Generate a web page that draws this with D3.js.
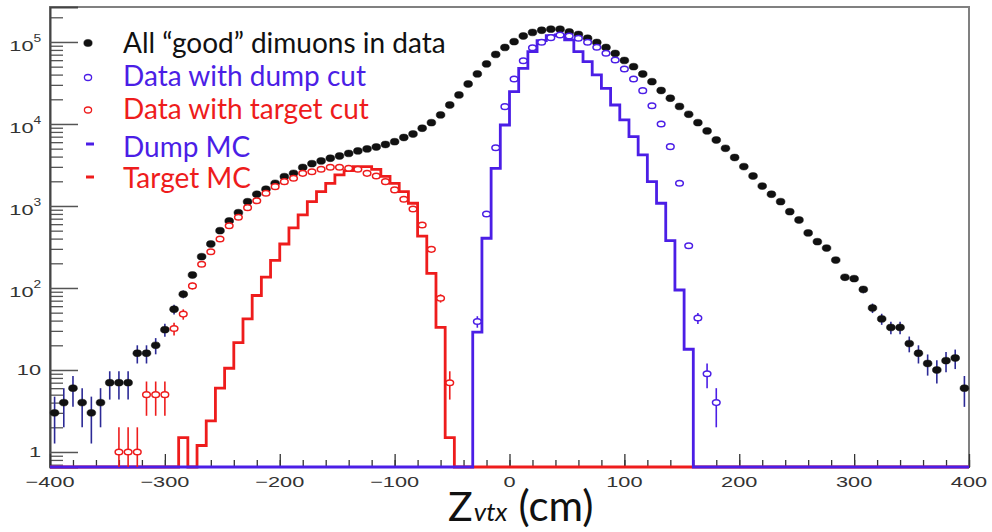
<!DOCTYPE html>
<html>
<head>
<meta charset="utf-8">
<script src="https://cdn.jsdelivr.net/npm/d3@7"></script>
<style>
  body { margin: 0; background: #fff; }
  svg { display: block; }
  .tick-label { font-family: "Liberation Sans", Arial, sans-serif; fill: #333; }
  .legend-label { font-family: Lato, "Open Sans", sans-serif; }
</style>
</head>
<body>
<svg id="chart" width="992" height="532"></svg>
<script>

/*** DATA ***/

// histogram binning along Z_vtx (cm): 100 bins of 8 cm from -400 to 400
const zMin = -400, zMax = 400, binWidth = 8;
const binEdges = d3.range(zMin, zMax, binWidth);          // low edge of each bin
const binCenters = binEdges.map((e) => e + binWidth / 2);

// All "good" dimuons in data
const allGood = [
  3, 4, 6, 4, 3, 4, 7, 7, 7, 16,
  16, 20, 31, 55, 84, 144, 241, 344, 500, 656,
  829, 1128, 1390, 1600, 1890, 2280, 2500, 2950, 3280, 3540,
  3820, 4070, 4370, 4690, 4960, 5240, 5620, 6080, 6840, 7550,
  8870, 10380, 12880, 17050, 22580, 30740, 40740, 53950, 70440, 85700,
  100900, 118300, 130600, 138900, 143300, 143000, 132500, 123400, 111000, 98600,
  85700, 72400, 59500, 50000, 40700, 32800, 25600, 20600, 16350, 13130,
  10380, 8220, 6380, 5050, 3900, 3020, 2320, 1750, 1390, 1130,
  852, 675, 469, 367, 307, 219, 135, 130, 96, 57,
  42, 33, 33, 21, 16, 12, 10, 13, 14, 6
];

// Data with dump cut
const dumpCut = [
  0, 0, 0, 0, 0, 0, 0, 0, 0, 0,
  0, 0, 0, 0, 0, 0, 0, 0, 0, 0,
  0, 0, 0, 0, 0, 0, 0, 0, 0, 0,
  0, 0, 0, 0, 0, 0, 0, 0, 0, 0,
  0, 0, 0, 0, 0, 0, 39, 799, 5140, 16260,
  35380, 59150, 85200, 99100, 112900, 121700, 118300, 111000, 99100, 86100,
  72800, 60300, 46900, 35400, 25500, 16700, 10000, 5290, 1890, 328,
  43, 9, 4, 0, 0, 0, 0, 0, 0, 0,
  0, 0, 0, 0, 0, 0, 0, 0, 0, 0,
  0, 0, 0, 0, 0, 0, 0, 0, 0, 0
];

// Data with target cut
const targetCut = [
  0, 0, 0, 0, 0, 0, 0, 1, 1, 1,
  5, 5, 5, 32, 48, 106, 195, 277, 396, 575,
  728, 954, 1160, 1430, 1720, 1980, 2180, 2500, 2620, 2800,
  2970, 2970, 2880, 2800, 2500, 2320, 1980, 1570, 1210, 920,
  587, 296, 75, 7, 0, 0, 0, 0, 0, 0,
  0, 0, 0, 0, 0, 0, 0, 0, 0, 0,
  0, 0, 0, 0, 0, 0, 0, 0, 0, 0,
  0, 0, 0, 0, 0, 0, 0, 0, 0, 0,
  0, 0, 0, 0, 0, 0, 0, 0, 0, 0,
  0, 0, 0, 0, 0, 0, 0, 0, 0, 0
];

// Dump MC
const dumpMC = [
  0, 0, 0, 0, 0, 0, 0, 0, 0, 0,
  0, 0, 0, 0, 0, 0, 0, 0, 0, 0,
  0, 0, 0, 0, 0, 0, 0, 0, 0, 0,
  0, 0, 0, 0, 0, 0, 0, 0, 0, 0,
  0, 0, 0, 0, 0, 0, 29, 404, 2880, 9720,
  24760, 47780, 76200, 103700, 119400, 121700, 105800, 76200, 57500, 39600,
  27200, 17050, 11190, 7000, 4190, 1980, 1080, 378, 94.5, 17.9,
  0, 0, 0, 0, 0, 0, 0, 0, 0, 0,
  0, 0, 0, 0, 0, 0, 0, 0, 0, 0,
  0, 0, 0, 0, 0, 0, 0, 0, 0, 0
];

// Target MC
const targetMC = [
  0, 0, 0, 0, 0, 0, 0, 0, 0, 0,
  0, 0, 0, 0, 1.5, 0, 1.2, 2.4, 6, 10.5,
  21.5, 42, 81, 136, 217, 344, 540, 777, 1128, 1494,
  1890, 2390, 2700, 3020, 3020, 2800, 2300, 1890, 1494, 1080,
  430, 151, 33, 1.5, 0, 0, 0, 0, 0, 0,
  0, 0, 0, 0, 0, 0, 0, 0, 0, 0,
  0, 0, 0, 0, 0, 0, 0, 0, 0, 0,
  0, 0, 0, 0, 0, 0, 0, 0, 0, 0,
  0, 0, 0, 0, 0, 0, 0, 0, 0, 0,
  0, 0, 0, 0, 0, 0, 0, 0, 0, 0
];

const xTicksMajor = d3.range(-400, 401, 100);
const xTicksMinor = d3.range(-400, 401, 20);
const yTicksMajor = [1, 10, 100, 1e3, 1e4, 1e5];
const yTickLabels = [["1", ""], ["10", ""], ["10", "2"], ["10", "3"], ["10", "4"], ["10", "5"]];

const legendLabels = ["All \u201Cgood\u201D dimuons in data", "Data with dump cut", "Data with target cut", "Dump MC", "Target MC"];

/*** LAYOUT ***/

const blue = "#4b1ee6", red = "#ee1c1c", black = "#111", errNavy = "#2c2a96";

let svg = d3.select('#chart');

let margin = {top: 7, right: 23, bottom: 65, left: 50},
    width  = 992 - margin.left - margin.right,
    height = 532 - margin.top - margin.bottom,
    bottom = margin.top + height;

let x = d3.scaleLinear().domain([zMin, zMax]).range([margin.left, margin.left + width]),
    y = d3.scaleLog().domain([0.656, 2.67e5]).range([bottom, margin.top]);

// empty or below-range bins sit on the axis line
function yc(v) {
    return v > 0 ? Math.min(y(v), bottom) : bottom;
}

function stretched_text(parent, px, py, str, anchor, size, sx) {
    return parent.append("text")
        .classed("tick-label", true)
        .attr("transform", "translate(" + px + "," + py + ") scale(" + sx + ",1)")
        .attr("text-anchor", anchor)
        .style("font-size", size + "px")
        .text(str);
}

/*** FRAME AND AXES ***/

svg.append("rect")
    .attr("x", margin.left).attr("y", margin.top)
    .attr("width", width).attr("height", height)
    .attr("fill", "none").attr("stroke", "#808080").attr("stroke-width", 2);

// y axis, ticks pointing into the plot
let minorY = [];
[0.1, 1, 10, 100, 1e3, 1e4, 1e5].forEach((dec) => {
    for (let m = 2; m <= 9; m++) {
        let v = dec * m;
        if (v >= y.domain()[0] && v <= y.domain()[1]) minorY.push(v);
    }
});

svg.append("g")
    .attr("transform", "translate(" + margin.left + ",0)")
    .call(d3.axisLeft(y).tickValues(minorY).tickSize(-13).tickFormat(""))
    .call((g) => g.select(".domain").remove())
    .selectAll("line").attr("stroke", "#555").attr("stroke-width", 1.3);

svg.append("g")
    .attr("transform", "translate(" + margin.left + ",0)")
    .call(d3.axisLeft(y).tickValues(yTicksMajor).tickSize(-28).tickFormat(""))
    .call((g) => g.select(".domain").attr("stroke", "#444").attr("stroke-width", 2))
    .selectAll("line").attr("stroke", "#555").attr("stroke-width", 1.5);

yTicksMajor.forEach((v, i) => {
    let lab = yTickLabels[i];
    if (lab[1] === "") {
        stretched_text(svg, 41, y(v) + 5.5, lab[0], "end", 15, 1.45);
    } else {
        stretched_text(svg, 33.5, y(v) + 9, lab[0], "end", 15, 1.45);
        stretched_text(svg, 33.5, y(v) + 0.5, lab[1], "start", 11, 1.25);
    }
});

// x axis, ticks pointing up into the plot
svg.append("g")
    .attr("transform", "translate(0," + bottom + ")")
    .call(d3.axisBottom(x).tickValues(xTicksMinor).tickSize(-7).tickFormat(""))
    .call((g) => g.select(".domain").remove())
    .selectAll("line").attr("stroke", "#333").attr("stroke-width", 1.3);

svg.append("g")
    .attr("transform", "translate(0," + bottom + ")")
    .call(d3.axisBottom(x).tickValues(xTicksMajor).tickSize(-13).tickFormat(""))
    .call((g) => g.select(".domain").attr("stroke", "#333"))
    .selectAll("line").attr("stroke", "#333").attr("stroke-width", 1.3);

xTicksMajor.forEach((v) => {
    stretched_text(svg, x(v), 487, d3.format("d")(v), "middle", 15, 1.45);
});

// axis title
let title = svg.append("text")
    .attr("x", 448).attr("y", 521)
    .style("font-family", "Lato, 'Open Sans', sans-serif")
    .attr("fill", "#111");
title.append("tspan").style("font-size", "41px").text("Z");
title.append("tspan").style("font-size", "26px").style("font-style", "italic").attr("dx", 1).text("vtx");
title.append("tspan").style("font-size", "42px").attr("dx", 11).text("(cm)");

/*** HISTOGRAMS ***/

let histLine = d3.line()
    .x((d) => x(d[0]))
    .y((d) => yc(d[1]))
    .curve(d3.curveStepAfter);

function draw_hist(values, color) {
    let pts = binEdges.map((e, i) => [e, values[i]]);
    pts.push([zMax, values[values.length - 1]]);
    svg.append("path")
        .attr("d", histLine(pts))
        .attr("fill", "none")
        .attr("stroke", color)
        .attr("stroke-width", 2.8)
        .attr("stroke-linejoin", "miter");
}

draw_hist(targetMC, red);
draw_hist(dumpMC, blue);

/*** DATA POINTS ***/

function draw_points(values, color, errColor, filled) {
    let pts = binCenters.map((c, i) => ({z: c, n: values[i]})).filter((d) => d.n > 0);
    let g = svg.append("g");

    g.selectAll("line.err")
        .data(pts).enter()
        .append("line")
        .classed("err", true)
        .attr("x1", (d) => x(d.z)).attr("x2", (d) => x(d.z))
        .attr("y1", (d) => yc(d.n + Math.sqrt(d.n)))
        .attr("y2", (d) => yc(d.n - Math.sqrt(d.n)))
        .attr("stroke", errColor)
        .attr("stroke-width", 1.6);

    g.selectAll("ellipse.pt")
        .data(pts).enter()
        .append("ellipse")
        .classed("pt", true)
        .attr("cx", (d) => x(d.z))
        .attr("cy", (d) => yc(d.n))
        .attr("rx", filled ? 4.4 : 3.8)
        .attr("ry", filled ? 3.4 : 2.8)
        .attr("fill", filled ? color : "#fff")
        .attr("stroke", color)
        .attr("stroke-width", filled ? 0.5 : 1.5);
}

draw_points(allGood, black, errNavy, true);
draw_points(targetCut, red, red, false);
draw_points(dumpCut, blue, blue, false);

/*** LEGEND ***/

let legendColors = [black, blue, red, blue, red],
    legendMarkers = ["dot", "circle", "circle", "dash", "dash"],
    legendMarkY = [43, 77.5, 110, 144, 177],
    legendTextY = [53, 86, 119, 157, 188];

legendLabels.forEach((lab, i) => {
    let my = legendMarkY[i], col = legendColors[i];
    if (legendMarkers[i] === "dash") {
        svg.append("line")
            .attr("x1", 86).attr("x2", 94).attr("y1", my).attr("y2", my)
            .attr("stroke", col).attr("stroke-width", 3);
    } else {
        svg.append("ellipse")
            .attr("cx", 88).attr("cy", my)
            .attr("rx", legendMarkers[i] === "dot" ? 4.2 : 3.6)
            .attr("ry", legendMarkers[i] === "dot" ? 3.6 : 3)
            .attr("fill", legendMarkers[i] === "dot" ? col : "#fff")
            .attr("stroke", col).attr("stroke-width", legendMarkers[i] === "dot" ? 0.5 : 1.3);
    }
    svg.append("text")
        .classed("legend-label", true)
        .attr("x", 123).attr("y", legendTextY[i])
        .style("font-size", "28px")
        .attr("fill", col)
        .text(lab);
});

</script>
</body>
</html>
